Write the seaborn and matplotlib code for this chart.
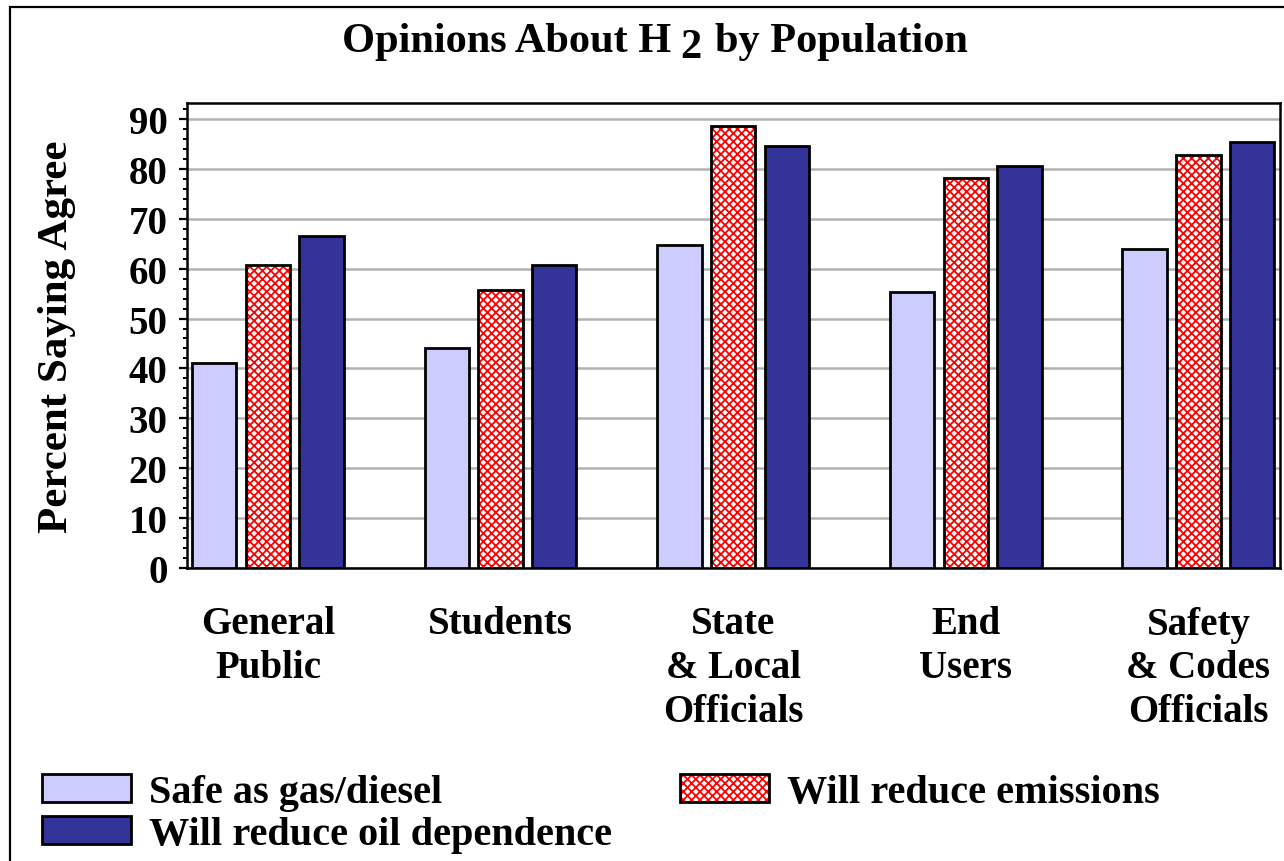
import matplotlib
matplotlib.use("Agg")
import matplotlib.pyplot as plt
import seaborn as sns
import pandas as pd
from matplotlib.patches import Rectangle, Patch
from matplotlib.legend_handler import HandlerTuple
from matplotlib.ticker import MultipleLocator

# ---- data -------------------------------------------------------------
groups = ["General\nPublic", "Students", "State\n& Local\nOfficials",
          "End\nUsers", "Safety\n& Codes\nOfficials"]
series = ["Safe as gas/diesel", "Will reduce emissions", "Will reduce oil dependence"]
safe_as_gas = [41.0, 44.0, 64.8, 55.4, 64.0]
reduce_emissions = [60.8, 55.8, 88.6, 78.2, 82.8]
reduce_oil = [66.6, 60.8, 84.5, 80.5, 85.4]
yticks = [0, 10, 20, 30, 40, 50, 60, 70, 80, 90]

colors = {"Safe as gas/diesel": "#CCCCFF",
          "Will reduce emissions": "#FFFFFF",
          "Will reduce oil dependence": "#333399"}
HATCH = "xxxx"

rows = []
for name, vals in zip(series, [safe_as_gas, reduce_emissions, reduce_oil]):
    for g, v in zip(groups, vals):
        rows.append({"group": g, "series": name, "value": v})
df = pd.DataFrame(rows)

# ---- style ------------------------------------------------------------
sns.set_theme(style="white")
plt.rcParams["font.family"] = ["Liberation Serif", "DejaVu Serif"]
plt.rcParams["font.weight"] = "bold"
plt.rcParams["hatch.linewidth"] = 1.3
for key in ["text.color", "axes.labelcolor", "xtick.color", "ytick.color"]:
    plt.rcParams[key] = "black"

W, H = 1284, 862
fig = plt.figure(figsize=(W / 100, H / 100), dpi=100)
ax = fig.add_axes([187 / W, 1 - 569 / H, (1280 - 187) / W, (569 - 104) / H])

sns.barplot(data=df, x="group", y="value", hue="series", order=groups,
            hue_order=series, palette=colors, width=0.693, gap=0.173,
            edgecolor="black", linewidth=2.0, saturation=1, ax=ax,
            legend=False, zorder=3)

# checkered red fill for the emissions bars, with a black outline on top
for bar in ax.containers[1]:
    bar.set_facecolor("white")
    bar.set_edgecolor("#FF0000")
    bar.set_hatch(HATCH)
    bar.set_linewidth(0)
    ax.add_patch(Rectangle(bar.get_xy(), bar.get_width(), bar.get_height(),
                           fill=False, edgecolor="black", linewidth=2.0, zorder=4))

# ---- axes -------------------------------------------------------------
ax.set_xlim(-0.348, 4.351)
ax.set_ylim(0, 93.2)
ax.set_yticks(yticks)
ax.yaxis.set_minor_locator(MultipleLocator(2))
ax.set_xlabel("")
ax.set_ylabel("")
ax.yaxis.grid(True, color="#B3B3B3", linewidth=1.8, zorder=0)
ax.set_axisbelow(True)
for s in ax.spines.values():
    s.set_visible(True)
    s.set_color("black")
    s.set_linewidth(1.8)
ax.tick_params(axis="y", which="major", direction="out", length=6, width=1.6,
               color="black", left=True, pad=8, labelsize=28)
ax.tick_params(axis="y", which="minor", direction="out", length=3, width=1.4,
               color="black", left=True)
ax.tick_params(axis="x", length=0, pad=27, labelsize=28)
for lab in ax.get_xticklabels() + ax.get_yticklabels():
    lab.set_fontweight("bold")
for lab in ax.get_xticklabels():
    lab.set_linespacing(1.25)

# ---- title with lowered "2" -------------------------------------------
fig.canvas.draw()
renderer = fig.canvas.get_renderer()
parts = [("Opinions About H", 0, 0), ("2", -6, 9), ("by Population", 0, 14)]
tfs = 30.5
objs = []
for txt, dy, gap in parts:
    t = fig.text(0, 0, txt, fontsize=tfs, fontweight="bold", ha="left",
                 va="baseline")
    objs.append((t, dy, gap, t.get_window_extent(renderer).width))
total = sum(w + g for _, _, g, w in objs)
x = 655 - total / 2
base = H - 52
for t, dy, gap, w in objs:
    x += gap
    t.set_position((x / W, (base + dy) / H))
    x += w

fig.text(57 / W, 1 - 337 / H, "Percent Saying Agree", rotation=90,
         fontsize=31, fontweight="bold", ha="center", va="center")

# ---- legend ------------------------------------------------------------
h_safe = Patch(facecolor="#CCCCFF", edgecolor="black", linewidth=2.0)
h_emis = (Patch(facecolor="white", edgecolor="#FF0000", hatch=HATCH, linewidth=0),
          Patch(facecolor="none", edgecolor="black", linewidth=2.0))
h_oil = Patch(facecolor="#333399", edgecolor="black", linewidth=2.0)
fig.legend([h_safe, h_oil, h_emis],
           ["Safe as gas/diesel", "Will reduce oil dependence", "Will reduce emissions"],
           handler_map={tuple: HandlerTuple(ndivide=1)},
           ncol=2, loc="upper left", bbox_to_anchor=(42 / W, 1 - 775 / H),
           frameon=False, borderpad=0, borderaxespad=0, handlelength=2.2,
           handleheight=0.68, handletextpad=0.45, columnspacing=1.7,
           labelspacing=0.12, prop={"size": 29, "weight": "bold"})

# ---- outer frame -------------------------------------------------------
fig.add_artist(Rectangle((10 / W, -0.05), 1.1, 1.05 - 8 / H,
                         transform=fig.transFigure, fill=False,
                         edgecolor="black", linewidth=1.6))

fig.savefig("out.png", dpi=100)
